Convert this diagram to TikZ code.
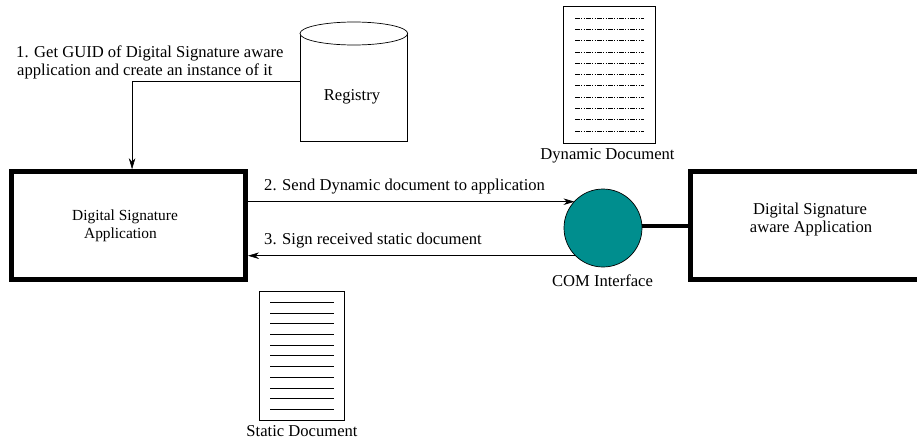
\documentclass[tikz,border=0pt]{standalone}
\usepackage{fontspec}
\setmainfont{Liberation Serif}
\usetikzlibrary{arrows.meta,calc}
\definecolor{comteal}{RGB}{0,142,142}
\tikzset{
  lbl/.style={inner sep=0pt,font=\fontsize{16.6}{18}\selectfont,align=center},
  lblsmall/.style={inner sep=0pt,font=\fontsize{15.4}{18}\selectfont,align=center},
  heavy/.style={draw=black,line width=5pt,inner sep=0pt},
  page/.style={draw=black,line width=0.7pt,inner sep=0pt,fill=white},
  wire/.style={line width=0.6pt,-{Stealth[length=11pt,width=6.5pt,inset=3.5pt]}},
  rowline/.style={line width=0.7pt},
  dotrow/.style={line width=0.7pt,dash pattern=on 4.5pt off 1.5pt on 1pt off 1.5pt on 1pt off 1.5pt}
}
\begin{document}
\begin{tikzpicture}[x=1pt,y=-1pt]
\useasboundingbox (0,0) rectangle (917,442);
\clip (0,0) rectangle (917,442);
% left application
\node[heavy,minimum width=233.3pt,minimum height=107.8pt] (dsa) at (128.5,225.6) {};
\node[lblsmall] (dsatext1) at (125,216.5) {Digital Signature};
\node[lblsmall] (dsatext2) at (120.5,234.5) {Application};
% right application
\node[heavy,minimum width=260pt,minimum height=107.8pt] (aware) at (820.5,225.6) {};
\node[lbl] (awaretext1) at (810,211) {Digital Signature};
\node[lbl] (awaretext2) at (811,229) {aware Application};
% COM
\node[circle,draw=black,fill=comteal,line width=0.7pt,minimum size=78pt,inner sep=0pt] (com) at (603,228) {};
\node[lbl] (comlabel) at (602.5,281) {COM Interface};
\draw[line width=3.6pt] (com.east |- 0,225.7) -- (aware.west |- 0,225.7);
% registry
\coordinate (regA) at (300,33.5);
\coordinate (regB) at (300,141);
\coordinate (regC) at (407.7,141);
\coordinate (regD) at (407.7,33.5);
\draw[line width=0.7pt,fill=white] (regA) -- (regB) -- (regC) -- (regD);
\draw[line width=0.7pt,fill=white] (353.85,33.5) ellipse [x radius=53.85pt,y radius=11.5pt];
\node[lbl] (registry) at (352,96.5) {Registry};
\coordinate (regout) at (300,81.3);
\draw[wire] (regout) -| ($(dsa.north west)!0.515!(dsa.north east)$);
\node[lbl,anchor=west] (step1a) at (16,53.5) {1. Get GUID of Digital Signature aware};
\node[lbl,anchor=west] (step1b) at (17,71.5) {application and create an instance of it};
% messages
\coordinate (dsaA) at (248,201.7);
\coordinate (comA) at (574.5,201.7);
\coordinate (comB) at (575,255.7);
\coordinate (dsaB) at (248,255.7);
\draw[wire] (dsaA) -- (comA);
\draw[wire] (comB) -- (dsaB);
\node[lbl,anchor=west] (step2) at (264,186.5) {2. Send Dynamic document to application};
\node[lbl,anchor=west] (step3) at (264,240.5) {3. Sign received static document};
% dynamic doc
\node[page,minimum width=91.5pt,minimum height=136.5pt] (dyn) at (609.3,74.7) {};
\foreach \i in {0,...,10} \draw[dotrow] (575,18+11.3*\i) -- (644,18+11.3*\i);
\node[lbl] (dynlabel) at (607.5,156) {Dynamic Document};
% static doc
\node[page,minimum width=85.7pt,minimum height=128.3pt] (stat) at (301.9,355.8) {};
\foreach \i in {0,...,10} \draw[rowline] (270,302.3+10.7*\i) -- (334,302.3+10.7*\i);
\node[lbl] (statlabel) at (302,431.3) {Static Document};
\end{tikzpicture}
\end{document}
